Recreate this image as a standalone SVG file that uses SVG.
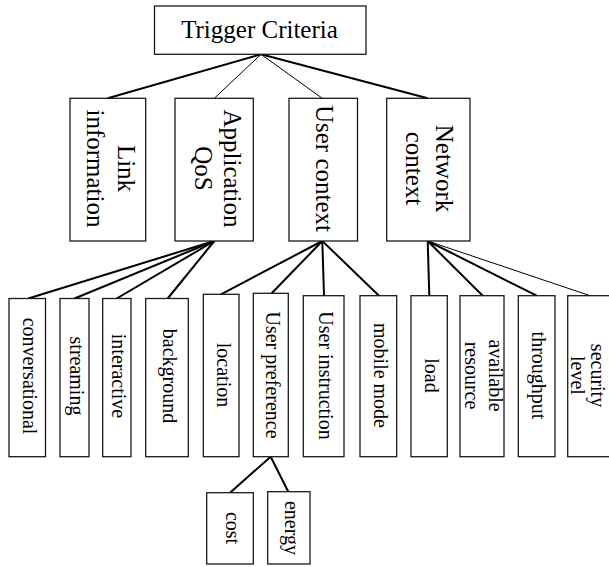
<svg xmlns="http://www.w3.org/2000/svg" width="609" height="567" viewBox="0 0 609 567">
<style>
rect{fill:#fff;stroke:#1a1a1a;stroke-width:1.3}
text{font-family:"Liberation Serif","Times New Roman",serif;fill:#000;text-anchor:middle}
.l2{font-size:25px}
.l3{font-size:20px}
.thick{stroke:#000;stroke-width:2;fill:none}
.thin{stroke:#000;stroke-width:1;fill:none}
</style>
<rect x="0" y="0" width="609" height="567" style="fill:#fff;stroke:none"/>
<g id="connectors">
<line class="thick" x1="261" y1="54.3" x2="107.7" y2="98.3"/>
<line class="thin" x1="261" y1="54.3" x2="214.3" y2="98.3"/>
<line class="thin" x1="261" y1="54.3" x2="322.3" y2="98.3"/>
<line class="thick" x1="261" y1="54.3" x2="427.7" y2="98.3"/>
<line class="thick" x1="214.3" y1="241" x2="28.3" y2="298.5"/>
<line class="thick" x1="214.3" y1="241" x2="74.5" y2="298.5"/>
<line class="thick" x1="214.3" y1="241" x2="116.7" y2="298.5"/>
<line class="thick" x1="214.3" y1="241" x2="167.7" y2="298.5"/>
<line class="thick" x1="322.3" y1="241" x2="221" y2="294.3"/>
<line class="thick" x1="322.3" y1="241" x2="271.7" y2="293.3"/>
<line class="thick" x1="322.3" y1="241" x2="324" y2="295.7"/>
<line class="thick" x1="322.3" y1="241" x2="379" y2="295.7"/>
<line class="thick" x1="427.7" y1="241" x2="429.3" y2="295.7"/>
<line class="thick" x1="427.7" y1="241" x2="482.7" y2="295.7"/>
<line class="thick" x1="427.7" y1="241" x2="536.7" y2="295.7"/>
<line class="thin" x1="427.7" y1="241" x2="590" y2="295.7"/>
<line class="thick" x1="270.7" y1="456.7" x2="230" y2="492.7"/>
<line class="thick" x1="270.7" y1="456.7" x2="288.3" y2="491.7"/>
</g>
<g id="trigger">
<rect x="154.5" y="6" width="211.5" height="48.3"/>
<text x="259.5" y="38" style="font-size:25px">Trigger Criteria</text>
</g>
<g id="link">
<rect x="70" y="98.3" width="75.7" height="142.7"/>
<text class="l2" transform="translate(107.8,168.5) rotate(90)"><tspan x="0" y="-10">Link</tspan><tspan x="0" y="20.5">information</tspan></text>
</g>
<g id="appqos">
<rect x="175" y="98.3" width="78.3" height="142.7"/>
<text class="l2" transform="translate(214.2,168.5) rotate(90)"><tspan x="0" y="-10">Application</tspan><tspan x="0" y="19.5">QoS</tspan></text>
</g>
<g id="usercontext">
<rect x="289" y="98.3" width="68.5" height="142.7"/>
<text class="l2" transform="translate(323.3,168.5) rotate(90)" y="7.5">User context</text>
</g>
<g id="network">
<rect x="386.7" y="98.3" width="83.3" height="142.7"/>
<text class="l2" transform="translate(428.3,168.5) rotate(90)"><tspan x="0" y="-7.7">Network</tspan><tspan x="0" y="22.3">context</tspan></text>
</g>
<g id="conversational">
<rect x="9" y="298.5" width="36.5" height="158.2"/>
<text class="l3" transform="translate(27.3,376) rotate(90)" y="4.5">conversational</text>
</g>
<g id="streaming">
<rect x="60" y="298.5" width="29" height="158.2"/>
<text class="l3" transform="translate(74.5,376) rotate(90)" y="4.5">streaming</text>
</g>
<g id="interactive">
<rect x="102.7" y="298.5" width="28.3" height="158.2"/>
<text class="l3" transform="translate(116.8,376) rotate(90)" y="4.5">interactive</text>
</g>
<g id="background">
<rect x="145.7" y="298.5" width="42.6" height="158.2"/>
<text class="l3" transform="translate(167,376) rotate(90)" y="4.5">background</text>
</g>
<g id="location">
<rect x="203.3" y="294.3" width="35.7" height="162.4"/>
<text class="l3" transform="translate(221.2,375) rotate(90)" y="4.5">location</text>
</g>
<g id="userpreference">
<rect x="253.3" y="293.3" width="35" height="163.4"/>
<text class="l3" transform="translate(270.8,375) rotate(90)" y="4.5">User preference</text>
</g>
<g id="userinstruction">
<rect x="303.3" y="295.7" width="40.7" height="161"/>
<text class="l3" transform="translate(323.7,375.5) rotate(90)" y="4.5">User instruction</text>
</g>
<g id="mobilemode">
<rect x="360" y="295.7" width="36.7" height="161"/>
<text class="l3" transform="translate(378.3,375.5) rotate(90)" y="4.5">mobile mode</text>
</g>
<g id="load">
<rect x="411" y="295.7" width="36.3" height="161"/>
<text class="l3" transform="translate(429.2,375.5) rotate(90)" y="4.5">load</text>
</g>
<g id="availableresource">
<rect x="460" y="295.7" width="44" height="161"/>
<text class="l3" transform="translate(482,375.5) rotate(90)"><tspan x="0" y="-7.2">available</tspan><tspan x="0" y="16.8">resource</tspan></text>
</g>
<g id="throughput">
<rect x="518.3" y="295.7" width="36.7" height="161"/>
<text class="l3" transform="translate(536.7,375.5) rotate(90)" y="4.5">throughput</text>
</g>
<g id="securitylevel">
<rect x="567.7" y="295.7" width="45.3" height="161"/>
<text class="l3" transform="translate(589,375.5) rotate(90)"><tspan x="0" y="-2">security</tspan><tspan x="0" y="18.5">level</tspan></text>
</g>
<g id="cost">
<rect x="206.7" y="492.7" width="46.6" height="71.3"/>
<text class="l3" transform="translate(230,528) rotate(90)" y="4">cost</text>
</g>
<g id="energy">
<rect x="267.7" y="491.7" width="42.3" height="72.3"/>
<text class="l3" transform="translate(288.8,528) rotate(90)" y="4">energy</text>
</g>
</svg>
